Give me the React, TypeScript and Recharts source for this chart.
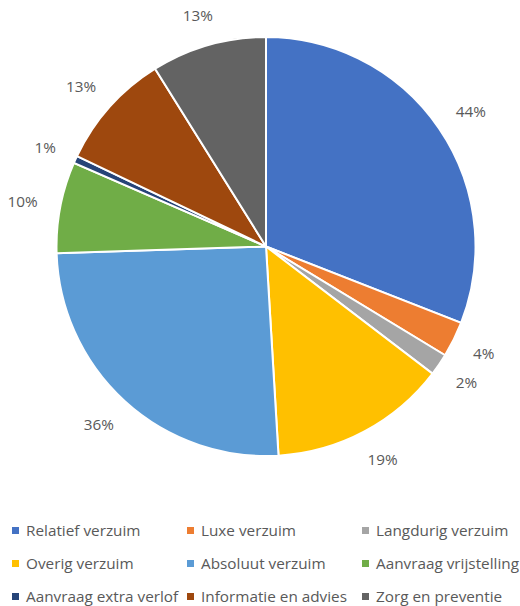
import { PieChart, Pie, Cell, Legend } from 'recharts';

const categories = [
  'Relatief verzuim',
  'Luxe verzuim',
  'Langdurig verzuim',
  'Overig verzuim',
  'Absoluut verzuim',
  'Aanvraag vrijstelling',
  'Aanvraag extra verlof',
  'Informatie en advies',
  'Zorg en preventie',
];

const percentages = [43.9, 3.9, 2.4, 19.4, 36.1, 10.0, 0.8, 12.8, 12.6];

const COLORS = ['#4472C4', '#ED7D31', '#A5A5A5', '#FFC000', '#5B9BD5', '#70AD47', '#264478', '#9E480E', '#636363'];

const data = categories.map((name, i) => ({ name, value: percentages[i] }));

const FONT = '"Open Sans", "Noto Sans", sans-serif';
const TEXT = '#595959';
const RADIAN = Math.PI / 180;

function renderLabel({ cx, cy, midAngle, outerRadius, value }: {
  cx: number; cy: number; midAngle: number; outerRadius: number; value: number;
}) {
  const text = `${Math.round(value)}%`;
  const ux = Math.cos(-midAngle * RADIAN);
  const uy = Math.sin(-midAngle * RADIAN);
  const r = outerRadius + 23;
  const w = text.length * 10.3;
  const h = 16;
  const x = cx + r * ux + (w / 2) * ux;
  const y = cy + r * uy + (h / 2) * uy;
  return (
    <text x={x} y={y} fill={TEXT} textAnchor="middle" dominantBaseline="central" fontSize={15.3} fontFamily={FONT}>
      {text}
    </text>
  );
}

function renderLegend() {
  return (
    <div style={{ display: 'grid', gridTemplateColumns: 'repeat(3, 175px)', rowGap: 11, paddingLeft: 12 }}>
      {categories.map((name, i) => (
        <div key={name} style={{ display: 'flex', alignItems: 'center', height: 22, whiteSpace: 'nowrap' }}>
          <span style={{ width: 7, height: 7, background: COLORS[i], marginRight: 7, flexShrink: 0 }} />
          <span style={{ fontFamily: FONT, fontSize: 15.3, color: TEXT }}>{name}</span>
        </div>
      ))}
    </div>
  );
}

export default function App() {
  return (
    <div style={{ position: 'absolute', left: 0, top: 0, width: 520, height: 606, background: '#fff' }}>
      <PieChart width={520} height={606} margin={{ top: 0, right: 0, bottom: 0, left: 0 }}>
        <Pie
          data={data}
          dataKey="value"
          nameKey="name"
          cx={266}
          cy={246.5}
          outerRadius={209.5}
          startAngle={90}
          endAngle={-270}
          stroke="#ffffff"
          strokeWidth={2}
          labelLine={false}
          label={renderLabel}
          isAnimationActive={false}
        >
          {data.map((_, i) => (
            <Cell key={i} fill={COLORS[i]} />
          ))}
        </Pie>
        <Legend
          verticalAlign="bottom"
          content={renderLegend}
          wrapperStyle={{ left: 0, top: 519, bottom: 'auto', width: 520 }}
        />
      </PieChart>
    </div>
  );
}
